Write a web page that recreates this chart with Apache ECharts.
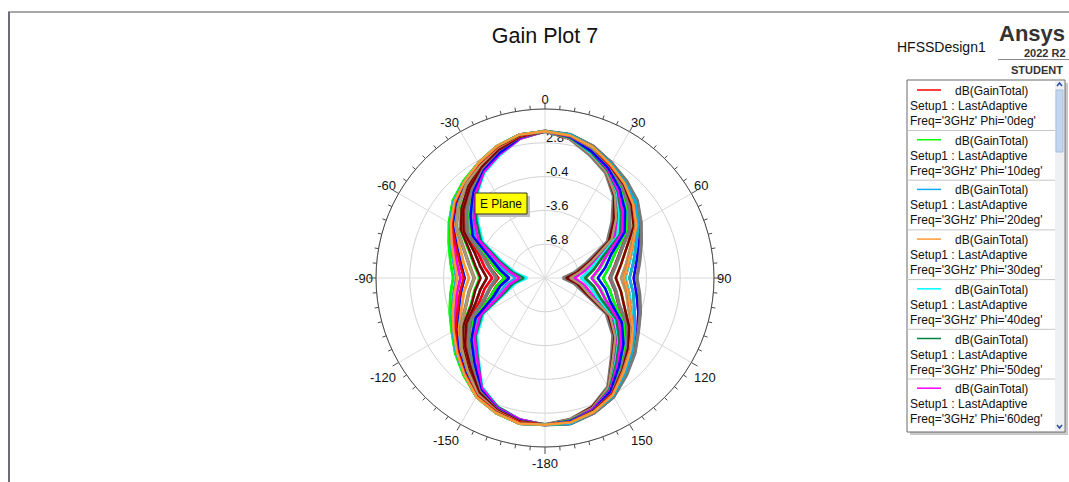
<!DOCTYPE html>
<html>
<head>
<meta charset="utf-8">
<title>Gain Plot 7</title>
<script src="https://cdn.jsdelivr.net/npm/echarts@6/dist/echarts.min.js"></script>
<style>
  html, body { margin: 0; padding: 0; background: #ffffff; }
  #chart { width: 1069px; height: 482px; }
</style>
</head>
<body>
<div id="chart"></div>
<script>
// Theta sweep of every cut (deg), and the phi value of each cut (deg)
const thetaDeg = [-180,-170,-160,-150,-140,-130,-120,-110,-100,-90,-80,-70,-60,-50,-40,-30,-20,-10,
                  0,10,20,30,40,50,60,70,80,90,100,110,120,130,140,150,160,170,180];
const phiDeg = [0,10,20,30,40,50,60,70,80,90,100,110,120,130,140,150,160,170,180,
                190,200,210,220,230,240,250,260,270,280,290,300,310,320,330,340,350,360];

// dB(GainTotal) at 3 GHz, one row per phi cut, one value per theta above
const gainTotalDb = [
  [3.9,4.0,3.6,3.0,1.9,1.0,0.1,-0.6,-1.2,-1.6,-1.2,-0.5,0.4,1.3,1.9,2.6,3.3,3.8,3.9,3.7,3.2,2.4,1.8,1.0,0.1,-1.1,-1.9,-2.4,-1.9,-1.3,-0.3,0.7,1.7,2.8,3.5,3.9,3.9],
  [3.9,4.0,3.6,3.0,2.0,1.1,0.2,-0.4,-0.9,-1.3,-0.9,-0.3,0.5,1.4,2.0,2.6,3.3,3.8,3.9,3.7,3.1,2.3,1.6,0.7,-0.3,-1.8,-2.7,-3.3,-2.7,-2.0,-0.8,0.3,1.4,2.7,3.4,3.9,3.9],
  [3.9,4.0,3.5,2.9,1.8,0.8,-0.2,-1.0,-1.5,-2.0,-1.5,-0.8,0.2,1.2,1.8,2.5,3.2,3.8,3.9,3.7,3.0,2.2,1.3,0.3,-0.8,-2.4,-3.3,-3.9,-3.3,-2.6,-1.1,0.1,1.2,2.6,3.4,3.9,3.9],
  [3.9,3.9,3.5,2.8,1.5,0.5,-0.5,-1.6,-2.2,-2.8,-2.2,-1.4,-0.1,0.9,1.7,2.4,3.1,3.7,3.9,3.6,2.9,2.1,1.1,0.1,-1.1,-2.9,-3.8,-4.5,-3.8,-3.0,-1.4,-0.1,1.0,2.5,3.3,3.8,3.9],
  [3.9,3.9,3.4,2.6,1.2,0.1,-1.1,-2.6,-3.3,-3.9,-3.3,-2.4,-0.8,0.3,1.3,2.2,3.0,3.7,3.9,3.6,2.8,1.9,0.8,-0.4,-1.6,-3.8,-4.8,-5.6,-4.8,-3.9,-1.9,-0.6,0.7,2.3,3.2,3.8,3.9],
  [3.9,3.8,3.3,2.5,1.0,-0.1,-1.4,-3.0,-3.8,-4.5,-3.8,-2.9,-1.1,0.1,1.1,2.1,2.9,3.6,3.9,3.5,2.7,1.8,0.7,-0.6,-1.8,-4.2,-5.3,-6.2,-5.3,-4.4,-2.2,-0.8,0.5,2.2,3.2,3.7,3.9],
  [3.9,3.8,3.3,2.4,0.9,-0.3,-1.6,-3.4,-4.2,-5.0,-4.2,-3.3,-1.3,-0.1,1.0,2.0,2.8,3.6,3.9,3.5,2.6,1.7,0.4,-1.0,-2.4,-4.9,-6.2,-7.2,-6.2,-5.2,-2.7,-1.1,0.2,2.1,3.1,3.7,3.9],
  [3.9,3.7,3.2,2.2,0.5,-0.8,-2.2,-4.4,-5.3,-6.2,-5.3,-4.2,-1.8,-0.6,0.7,1.8,2.7,3.5,3.9,3.4,2.5,1.6,0.3,-1.2,-2.7,-5.2,-6.6,-7.6,-6.6,-5.6,-2.9,-1.3,0.0,2.0,3.1,3.6,3.9],
  [3.9,3.7,3.2,2.2,0.4,-0.9,-2.4,-4.8,-5.7,-6.6,-5.7,-4.5,-2.1,-0.8,0.6,1.8,2.6,3.5,3.9,3.4,2.4,1.5,0.1,-1.7,-3.2,-5.8,-7.2,-8.3,-7.2,-6.1,-3.3,-1.6,-0.2,1.9,3.0,3.6,3.9],
  [3.9,3.7,3.2,2.2,0.5,-0.8,-2.2,-4.4,-5.3,-6.2,-5.3,-4.2,-1.8,-0.6,0.7,1.8,2.7,3.5,3.9,3.4,2.5,1.6,0.2,-1.5,-3.0,-5.5,-6.9,-8.0,-6.9,-5.9,-3.1,-1.4,-0.1,2.0,3.0,3.6,3.9],
  [3.9,3.8,3.2,2.3,0.7,-0.6,-1.9,-3.9,-4.8,-5.6,-4.8,-3.8,-1.6,-0.4,0.8,1.9,2.8,3.6,3.9,3.4,2.5,1.6,0.3,-1.2,-2.7,-5.2,-6.6,-7.6,-6.6,-5.6,-2.9,-1.3,0.0,2.0,3.1,3.6,3.9],
  [3.9,3.8,3.3,2.4,0.9,-0.3,-1.6,-3.4,-4.2,-5.0,-4.2,-3.3,-1.3,-0.1,1.0,2.0,2.8,3.6,3.9,3.5,2.6,1.8,0.6,-0.8,-2.1,-4.5,-5.7,-6.6,-5.7,-4.8,-2.4,-0.9,0.4,2.2,3.2,3.7,3.9],
  [3.9,3.9,3.4,2.7,1.3,0.2,-1.0,-2.5,-3.2,-3.8,-3.2,-2.3,-0.7,0.4,1.2,2.3,3.0,3.7,3.9,3.6,2.8,2.0,0.9,-0.3,-1.5,-3.7,-4.7,-5.5,-4.7,-3.8,-1.8,-0.5,0.8,2.4,3.3,3.8,3.9],
  [3.9,3.9,3.4,2.7,1.4,0.3,-0.8,-2.0,-2.7,-3.3,-2.7,-1.8,-0.3,0.7,1.6,2.3,3.1,3.7,3.9,3.6,2.9,2.1,1.1,0.1,-1.1,-2.9,-3.8,-4.5,-3.8,-3.0,-1.4,-0.1,1.0,2.5,3.3,3.8,3.9],
  [3.9,3.9,3.5,2.8,1.5,0.5,-0.5,-1.6,-2.2,-2.8,-2.2,-1.4,-0.1,0.9,1.7,2.4,3.1,3.7,3.9,3.7,3.1,2.3,1.6,0.7,-0.3,-1.8,-2.7,-3.3,-2.7,-2.0,-0.8,0.3,1.4,2.7,3.4,3.9,3.9],
  [3.9,3.9,3.5,2.8,1.7,0.7,-0.3,-1.3,-1.9,-2.4,-1.9,-1.1,0.1,1.0,1.8,2.4,3.2,3.7,3.9,3.7,3.2,2.4,1.8,1.0,0.1,-1.1,-1.9,-2.4,-1.9,-1.3,-0.3,0.7,1.7,2.8,3.5,3.9,3.9],
  [3.9,4.0,3.5,2.9,1.8,0.8,-0.2,-1.0,-1.5,-2.0,-1.5,-0.8,0.2,1.2,1.8,2.5,3.2,3.8,3.9,3.8,3.3,2.6,2.0,1.4,0.5,-0.3,-0.9,-1.3,-0.9,-0.4,0.2,1.1,2.0,3.0,3.6,4.0,3.9],
  [3.9,4.0,3.5,2.9,1.8,0.8,-0.2,-1.0,-1.5,-2.0,-1.5,-0.8,0.2,1.2,1.8,2.5,3.2,3.8,3.9,3.8,3.3,2.6,1.9,1.3,0.4,-0.5,-1.2,-1.6,-1.2,-0.6,0.1,1.0,1.9,3.0,3.6,4.0,3.9],
  [3.9,3.9,3.5,2.8,1.7,0.7,-0.3,-1.3,-1.9,-2.4,-1.9,-1.1,0.1,1.0,1.8,2.4,3.2,3.7,3.9,3.8,3.3,2.6,1.9,1.3,0.4,-0.5,-1.2,-1.6,-1.2,-0.6,0.1,1.0,1.9,3.0,3.6,4.0,3.9],
  [3.9,3.9,3.4,2.7,1.4,0.3,-0.8,-2.0,-2.7,-3.3,-2.7,-1.8,-0.3,0.7,1.6,2.3,3.1,3.7,3.9,3.8,3.3,2.6,2.0,1.4,0.5,-0.3,-0.9,-1.3,-0.9,-0.4,0.2,1.1,2.0,3.0,3.6,4.0,3.9],
  [3.9,3.9,3.4,2.6,1.2,0.1,-1.1,-2.6,-3.3,-3.9,-3.3,-2.4,-0.8,0.3,1.3,2.2,3.0,3.7,3.9,3.8,3.2,2.5,1.8,1.2,0.2,-0.8,-1.5,-2.0,-1.5,-1.0,-0.2,0.8,1.8,2.9,3.5,4.0,3.9],
  [3.9,3.8,3.3,2.5,1.0,-0.1,-1.4,-3.0,-3.8,-4.5,-3.8,-2.9,-1.1,0.1,1.1,2.1,2.9,3.6,3.9,3.7,3.1,2.4,1.7,0.9,-0.1,-1.4,-2.2,-2.8,-2.2,-1.6,-0.5,0.5,1.5,2.8,3.5,3.9,3.9],
  [3.9,3.8,3.2,2.3,0.7,-0.6,-1.9,-3.9,-4.8,-5.6,-4.8,-3.8,-1.6,-0.4,0.8,1.9,2.8,3.6,3.9,3.7,3.0,2.2,1.3,0.3,-0.8,-2.4,-3.3,-3.9,-3.3,-2.6,-1.1,0.1,1.2,2.6,3.4,3.9,3.9],
  [3.9,3.7,3.2,2.2,0.5,-0.8,-2.2,-4.4,-5.3,-6.2,-5.3,-4.2,-1.8,-0.6,0.7,1.8,2.7,3.5,3.9,3.6,2.9,2.1,1.1,0.1,-1.1,-2.9,-3.8,-4.5,-3.8,-3.0,-1.4,-0.1,1.0,2.5,3.3,3.8,3.9],
  [3.9,3.7,3.1,2.1,0.2,-1.1,-2.7,-5.2,-6.2,-7.2,-6.2,-4.9,-2.4,-1.0,0.4,1.7,2.6,3.5,3.9,3.6,2.8,2.0,1.0,-0.1,-1.3,-3.3,-4.2,-5.0,-4.2,-3.4,-1.6,-0.3,0.9,2.4,3.3,3.8,3.9],
  [3.9,3.6,3.1,2.0,0.0,-1.3,-2.9,-5.6,-6.6,-7.6,-6.6,-5.2,-2.7,-1.2,0.3,1.6,2.5,3.4,3.9,3.5,2.7,1.8,0.7,-0.6,-1.8,-4.2,-5.3,-6.2,-5.3,-4.4,-2.2,-0.8,0.5,2.2,3.2,3.7,3.9],
  [3.9,3.6,3.0,1.9,-0.2,-1.6,-3.3,-6.1,-7.2,-8.3,-7.2,-5.8,-3.2,-1.7,0.1,1.5,2.4,3.4,3.9,3.5,2.6,1.8,0.6,-0.8,-2.1,-4.5,-5.7,-6.6,-5.7,-4.8,-2.4,-0.9,0.4,2.2,3.2,3.7,3.9],
  [3.9,3.6,3.0,2.0,-0.1,-1.4,-3.1,-5.9,-6.9,-8.0,-6.9,-5.5,-3.0,-1.5,0.2,1.6,2.5,3.4,3.9,3.5,2.7,1.8,0.7,-0.6,-1.8,-4.2,-5.3,-6.2,-5.3,-4.4,-2.2,-0.8,0.5,2.2,3.2,3.7,3.9],
  [3.9,3.6,3.1,2.0,0.0,-1.3,-2.9,-5.6,-6.6,-7.6,-6.6,-5.2,-2.7,-1.2,0.3,1.6,2.5,3.4,3.9,3.6,2.8,1.9,0.8,-0.4,-1.6,-3.8,-4.8,-5.6,-4.8,-3.9,-1.9,-0.6,0.7,2.3,3.2,3.8,3.9],
  [3.9,3.7,3.2,2.2,0.4,-0.9,-2.4,-4.8,-5.7,-6.6,-5.7,-4.5,-2.1,-0.8,0.6,1.8,2.6,3.5,3.9,3.6,2.8,2.0,1.0,-0.1,-1.3,-3.3,-4.2,-5.0,-4.2,-3.4,-1.6,-0.3,0.9,2.4,3.3,3.8,3.9],
  [3.9,3.8,3.3,2.4,0.8,-0.5,-1.8,-3.8,-4.7,-5.4,-4.7,-3.7,-1.5,-0.3,0.9,2.0,2.9,3.6,3.9,3.7,3.1,2.3,1.4,0.4,-0.7,-2.3,-3.2,-3.8,-3.2,-2.5,-1.0,0.2,1.3,2.7,3.4,3.9,3.9],
  [3.9,3.8,3.3,2.5,1.0,-0.1,-1.4,-3.0,-3.8,-4.5,-3.8,-2.9,-1.1,0.1,1.1,2.1,2.9,3.6,3.9,3.7,3.1,2.3,1.6,0.7,-0.3,-1.8,-2.7,-3.3,-2.7,-2.0,-0.8,0.3,1.4,2.7,3.4,3.9,3.9],
  [3.9,3.9,3.4,2.7,1.4,0.3,-0.8,-2.0,-2.7,-3.3,-2.7,-1.8,-0.3,0.7,1.6,2.3,3.1,3.7,3.9,3.7,3.1,2.4,1.7,0.9,-0.1,-1.4,-2.2,-2.8,-2.2,-1.6,-0.5,0.5,1.5,2.8,3.5,3.9,3.9],
  [3.9,3.9,3.5,2.9,1.8,0.8,-0.2,-1.2,-1.8,-2.3,-1.8,-1.0,0.2,1.1,1.9,2.5,3.2,3.7,3.9,3.7,3.2,2.3,1.7,0.9,0.0,-1.2,-2.0,-2.5,-2.0,-1.4,-0.4,0.6,1.6,2.7,3.5,3.9,3.9],
  [3.9,4.0,3.6,3.0,2.0,1.1,0.2,-0.4,-0.9,-1.3,-0.9,-0.3,0.5,1.4,2.0,2.6,3.3,3.8,3.9,3.8,3.2,2.5,1.8,1.2,0.2,-0.8,-1.5,-2.0,-1.5,-1.0,-0.2,0.8,1.8,2.9,3.5,4.0,3.9],
  [3.9,4.0,3.6,3.0,1.9,1.0,0.1,-0.6,-1.2,-1.6,-1.2,-0.5,0.4,1.3,1.9,2.6,3.3,3.8,3.9,3.8,3.2,2.5,1.8,1.2,0.2,-0.8,-1.5,-2.0,-1.5,-1.0,-0.2,0.8,1.8,2.9,3.5,4.0,3.9],
  [3.9,4.0,3.6,3.0,1.9,0.9,0.0,-0.7,-1.3,-1.7,-1.3,-0.6,0.3,1.2,1.9,2.6,3.3,3.8,3.9,3.7,3.2,2.4,1.7,0.9,0.0,-1.2,-2.0,-2.5,-2.0,-1.4,-0.4,0.6,1.6,2.8,3.5,3.9,3.9]
];

// Trace colours, cycled over the phi cuts
const traceColors = ['#ff0000', '#00ff00', '#10aaf0', '#ff9933', '#00ffff', '#008040',
                     '#ff00ff', '#0000ff', '#7a7a7a', '#800000', '#b09868'];

// Polar scale: centre of the plot is -10 dB, rim is 6 dB, rings every 3.2 dB
const radialMinDb = -10;
const radialMaxDb = 6;
const radialStepDb = 3.2;
const angleTickLabels = ['0', '30', '60', '90', '120', '150', '-180', '-150', '-120', '-90', '-60', '-30'];

// Legend rows visible in the scroll box
const legendRows = 7;
const legendQuantity = 'dB(GainTotal)';
const legendSolution = 'Setup1 : LastAdaptive';
const legendFreq = '3GHz';

const FONT = '"Liberation Sans", Arial, Helvetica, sans-serif';

const chart = echarts.init(document.getElementById('chart'), null, { renderer: 'svg' });

// Polar series: radius is stored as dB above the plot centre so ring ticks start at 0
const series = phiDeg.map((phi, k) => {
  const color = traceColors[k % traceColors.length];
  return {
    name: 'Phi=' + phi,
    type: 'line',
    coordinateSystem: 'polar',
    symbol: 'none',
    smooth: false,
    silent: true,
    animation: false,
    lineStyle: { color: color, width: color === '#7a7a7a' ? 3.5 : 2.5 },
    data: thetaDeg.map((t, i) => [gainTotalDb[k][i] - radialMinDb, t < 0 ? t + 360 : t])
  };
});

// Legend box drawn as graphics
const legendX = 907, legendY = 80, legendW = 148, legendH = 352, rowH = 49.7;
const legendGraphics = [
  { type: 'rect', shape: { x: legendX + 3, y: legendY + 3, width: legendW + 10, height: legendH }, style: { fill: '#c8c8c8' }, z: 1 },
  { type: 'rect', shape: { x: legendX, y: legendY, width: legendW + 10, height: legendH }, style: { fill: '#ffffff', stroke: '#6a6a6a', lineWidth: 1 }, z: 2 },
  // scroll bar
  { type: 'rect', shape: { x: legendX + legendW, y: legendY + 1, width: 9, height: legendH - 2 }, style: { fill: '#eef0f4' }, z: 3 },
  { type: 'rect', shape: { x: legendX + legendW + 1, y: legendY + 10, width: 7, height: 62 }, style: { fill: '#c3d6ef', stroke: '#a8bfdd', lineWidth: 1 }, z: 4 },
  { type: 'polyline', shape: { points: [[legendX + legendW + 2, legendY + 6], [legendX + legendW + 4.5, legendY + 3], [legendX + legendW + 7, legendY + 6]] }, style: { stroke: '#2a4fa0', lineWidth: 1.5, fill: null }, z: 4 },
  { type: 'polyline', shape: { points: [[legendX + legendW + 2, legendY + legendH - 7], [legendX + legendW + 4.5, legendY + legendH - 4], [legendX + legendW + 7, legendY + legendH - 7]] }, style: { stroke: '#2a4fa0', lineWidth: 1.5, fill: null }, z: 4 }
];
for (let i = 0; i < legendRows; i++) {
  const y = legendY + 11 + i * rowH;
  legendGraphics.push(
    { type: 'line', shape: { x1: legendX + 10, y1: y - 1, x2: legendX + 34, y2: y - 1 }, style: { stroke: traceColors[i % traceColors.length], lineWidth: 1.5 }, z: 5 },
    { type: 'text', style: { text: legendQuantity, x: legendX + 48, y: y, textVerticalAlign: 'middle', font: '12px ' + FONT, fill: '#111' }, z: 5 },
    { type: 'text', style: { text: legendSolution, x: legendX + 3, y: y + 15, textVerticalAlign: 'middle', font: '12px ' + FONT, fill: '#111' }, z: 5 },
    { type: 'text', style: { text: "Freq='" + legendFreq + "' Phi='" + phiDeg[i] + "deg'", x: legendX + 3, y: y + 30, textVerticalAlign: 'middle', font: '12px ' + FONT, fill: '#111' }, z: 5 }
  );
  if (i < legendRows - 1) {
    legendGraphics.push({ type: 'line', shape: { x1: legendX, y1: y + 39.5, x2: legendX + legendW, y2: y + 39.5 }, style: { stroke: '#c6c6c6', lineWidth: 1 }, z: 5 });
  }
}

const option = {
  backgroundColor: '#ffffff',
  animation: false,
  title: {
    text: 'Gain Plot 7',
    left: 540,
    top: 20,
    textAlign: 'center',
    textStyle: { fontFamily: FONT, fontSize: 21.5, fontWeight: 'normal', color: '#111' }
  },
  polar: { center: [545, 278], radius: 169 },
  angleAxis: {
    type: 'value',
    min: 0,
    max: 360,
    interval: 30,
    startAngle: 90,
    clockwise: true,
    axisLine: { show: true, lineStyle: { color: '#4a4a4a', width: 1 } },
    axisTick: { show: true, length: 7, lineStyle: { color: '#4a4a4a', width: 1 } },
    minorTick: { show: true, splitNumber: 6, length: 4, lineStyle: { color: '#4a4a4a', width: 1 } },
    splitLine: { show: true, lineStyle: { color: '#dadada', width: 1 } },
    minorSplitLine: { show: false },
    axisLabel: {
      margin: 3,
      color: '#111',
      fontSize: 13,
      fontFamily: FONT,
      // labels on the lower half of the rim sit a little further out
      formatter: v => {
        const text = angleTickLabels[Math.round(v / 30) % 12];
        return (v > 90 && v < 270) ? '{lo|' + text + '}' : text;
      },
      rich: { lo: { padding: [7, 0, 0, 0], fontSize: 13, fontFamily: FONT, color: '#111' } }
    }
  },
  radiusAxis: {
    type: 'value',
    min: 0,
    max: radialMaxDb - radialMinDb,
    interval: radialStepDb,
    axisLine: { show: false },
    axisTick: { show: false },
    splitLine: { show: true, lineStyle: { color: '#d2d2d2', width: 1 } },
    axisLabel: {
      margin: -1,
      align: 'left',
      verticalAlign: 'bottom',
      lineHeight: 10,
      color: '#111',
      fontSize: 13,
      fontFamily: FONT,
      formatter: v => {
        if (v < 1e-6 || Math.abs(v - (radialMaxDb - radialMinDb)) < 1e-6) return '';
        return (v + radialMinDb).toFixed(1);
      }
    }
  },
  graphic: {
    elements: [
      // window frame
      { type: 'line', shape: { x1: 8, y1: 12, x2: 1069, y2: 12 }, style: { stroke: '#a8a8a8', lineWidth: 2 }, z: 10 },
      { type: 'line', shape: { x1: 9, y1: 12, x2: 9, y2: 482 }, style: { stroke: '#6c6c78', lineWidth: 2 }, z: 10 },
      // design name and product stamp
      { type: 'text', style: { text: 'HFSSDesign1', x: 897, y: 47, textVerticalAlign: 'middle', font: '14px ' + FONT, fill: '#111' }, z: 10 },
      { type: 'text', style: { text: 'Ansys', x: 999, y: 33, textVerticalAlign: 'middle', font: 'bold 22px ' + FONT, fill: '#333' }, z: 10 },
      { type: 'text', style: { text: '2022 R2', x: 1024, y: 53, textVerticalAlign: 'middle', font: 'bold 11px ' + FONT, fill: '#333' }, z: 10 },
      { type: 'line', shape: { x1: 998, y1: 59.5, x2: 1069, y2: 59.5 }, style: { stroke: '#8a8a8a', lineWidth: 1 }, z: 10 },
      { type: 'text', style: { text: 'STUDENT', x: 1011, y: 70, textVerticalAlign: 'middle', font: 'bold 11px ' + FONT, fill: '#333' }, z: 10 },
      // plane marker
      { type: 'rect', shape: { x: 478, y: 196, width: 52, height: 21 }, style: { fill: '#bdbdbd' }, z: 20 },
      { type: 'rect', shape: { x: 475, y: 193, width: 52, height: 21 }, style: { fill: '#ffff00', stroke: '#333', lineWidth: 1 }, z: 21 },
      { type: 'text', style: { text: 'E Plane', x: 501, y: 204, textAlign: 'center', textVerticalAlign: 'middle', font: '12px ' + FONT, fill: '#111' }, z: 22 }
    ].concat(legendGraphics)
  },
  series: series
};

chart.setOption(option);
</script>
</body>
</html>
